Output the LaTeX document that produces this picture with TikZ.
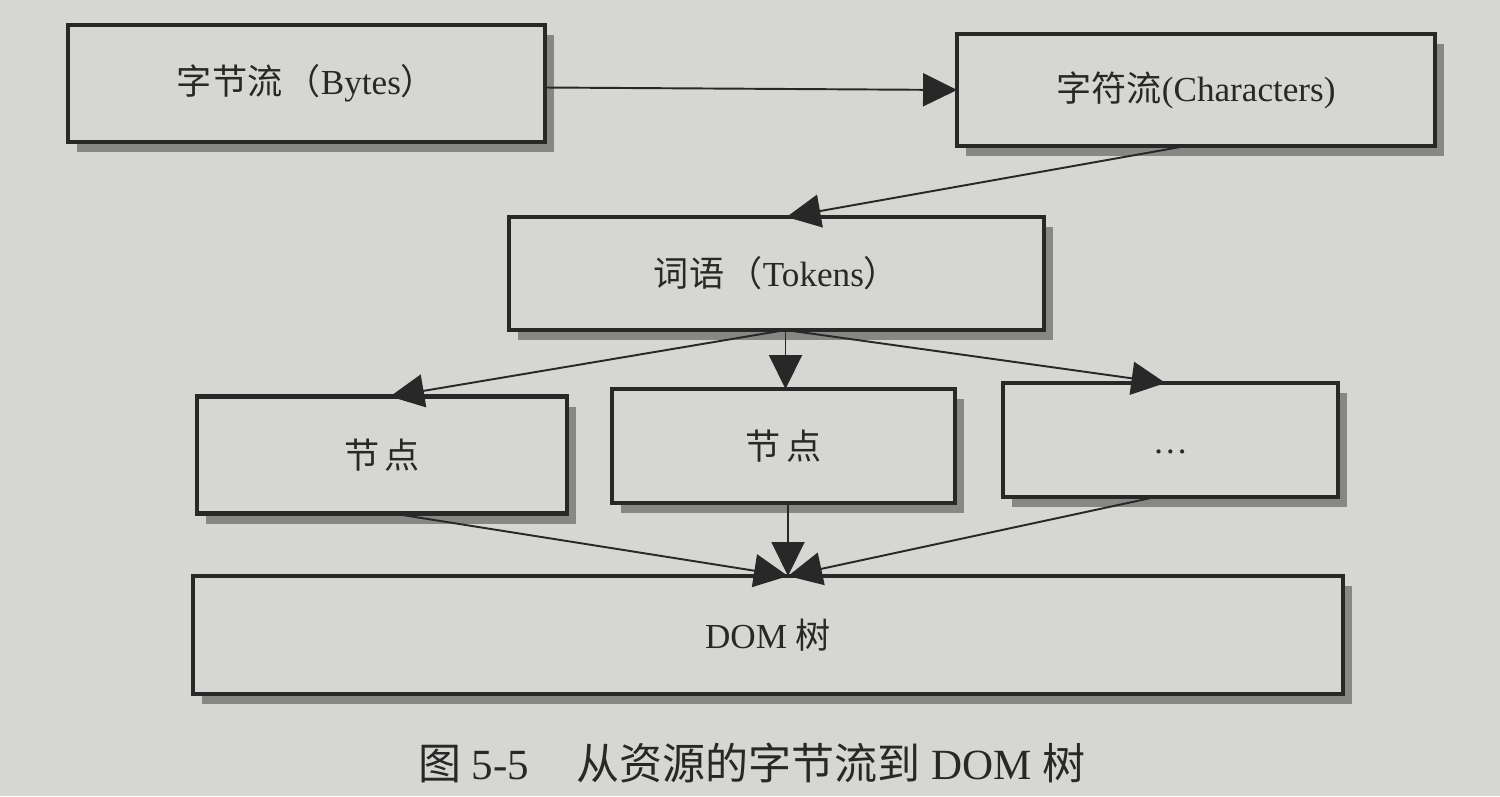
\documentclass[tikz,border=0pt]{standalone}
\usepackage{fontspec}
\setmainfont{Liberation Serif}
\newfontfamily\cjk{Noto Sans CJK SC}
\usetikzlibrary{arrows.meta,shadows}
\definecolor{paper}{RGB}{214,214,210}
\definecolor{ink}{RGB}{40,40,40}
\definecolor{shade}{RGB}{135,135,132}
\begin{document}
\begin{tikzpicture}[x=0.02cm,y=-0.02cm,
  box/.style={draw=ink, line width=2.4pt, fill=paper, inner sep=0pt, outer sep=0pt,
    text=ink, font=\fontsize{20}{23}\selectfont,
    drop shadow={shadow xshift=0.18cm, shadow yshift=-0.2cm, fill=shade, opacity=1}},
  arr/.style={draw=ink, line width=1.1pt, -{Triangle[length=0.68cm,width=0.66cm]}}]
\useasboundingbox[fill=paper] (0,0) rectangle (1500,796);

\node[box, minimum width=9.54cm, minimum height=2.34cm] (bytes) at (306.5,83.5)
  {{\cjk 字节流\hspace{0.1em}（}Bytes{\cjk ）}};
\node[box, minimum width=9.56cm, minimum height=2.24cm] (chars) at (1196,90)
  {{\cjk 字符流}(Characters)};
\node[box, minimum width=10.7cm, minimum height=2.26cm] (tokens) at (776.5,273.5)
  {{\cjk 词语\hspace{0.1em}（}Tokens{\cjk ）}};
\node[box, minimum width=7.4cm, minimum height=2.34cm] (n1) at (382,455)
  {{\cjk 节\hspace{0.15em}点}};
\node[box, minimum width=6.86cm, minimum height=2.28cm] (n2) at (783.5,446)
  {{\cjk 节\hspace{0.15em}点}};
\node[box, minimum width=6.7cm, minimum height=2.28cm, text height=0.55cm, text depth=0pt] (n3) at (1170.5,440)
  {\ldots};
\node[box, minimum width=23.0cm, minimum height=2.36cm] (dom) at (768,635)
  {DOM {\cjk 树}};

\node[text=ink, font=\fontsize{24.5}{28}\selectfont] (cap) at (752,763)
  {{\cjk 图} 5-5\hspace{1.1em}{\cjk 从资源的字节流到} DOM {\cjk 树}};

\coordinate (tokout) at ([xshift=0.18cm]tokens.south);
\coordinate (domin) at ([xshift=0.4cm]dom.north);

\draw[arr] ([yshift=-0.08cm]bytes.east) -- (chars.west);
\draw[arr] ([xshift=-0.2cm]chars.south) -- ([xshift=0.2cm]tokens.north);
\draw[arr] (tokout) -- ([xshift=0.16cm]n1.north);
\draw[arr] (tokout) -- (tokout |- n2.north);
\draw[arr] (tokout) -- ([xshift=-0.1cm]n3.north);
\draw[arr] ([xshift=0.22cm]n1.south) -- (domin);
\draw[arr] (n2.south -| domin) -- (domin);
\draw[arr] ([xshift=-0.3cm]n3.south) -- (domin);
\end{tikzpicture}
\end{document}
